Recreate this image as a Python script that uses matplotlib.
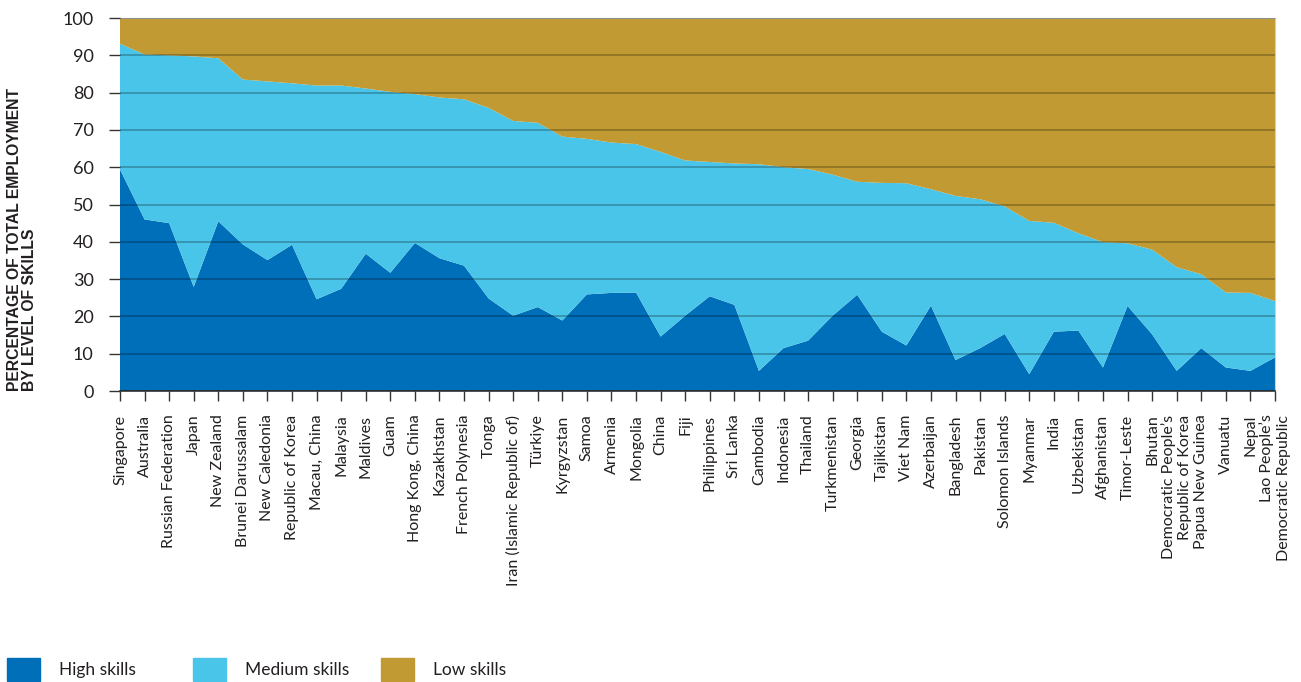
import matplotlib
matplotlib.use("Agg")
import matplotlib.pyplot as plt
from matplotlib.patches import Rectangle
import numpy as np

plt.rcParams["font.family"] = ["Lato", "DejaVu Sans"]
plt.rcParams["text.color"] = "#231f20"
plt.rcParams["xtick.labelcolor"] = "#231f20"
plt.rcParams["ytick.labelcolor"] = "#231f20"

countries = [
    "Singapore", "Australia", "Russian Federation", "Japan", "New Zealand",
    "Brunei Darussalam", "New Caledonia", "Republic of Korea", "Macau, China",
    "Malaysia", "Maldives", "Guam", "Hong Kong, China", "Kazakhstan",
    "French Polynesia", "Tonga", "Iran (Islamic Republic of)", "Türkiye",
    "Kyrgyzstan", "Samoa", "Armenia", "Mongolia", "China", "Fiji",
    "Philippines", "Sri Lanka", "Cambodia", "Indonesia", "Thailand",
    "Turkmenistan", "Georgia", "Tajikistan", "Viet Nam", "Azerbaijan",
    "Bangladesh", "Pakistan", "Solomon Islands", "Myanmar", "India",
    "Uzbekistan", "Afghanistan", "Timor-Leste", "Bhutan",
    "Democratic People\u2019s\nRepublic of Korea", "Papua New Guinea",
    "Vanuatu", "Nepal", "Lao People\u2019s\nDemocratic Republic",
]

high = [59.4, 46.0, 45.0, 27.9, 45.5, 39.3, 35.1, 39.2, 24.6, 27.4,
        36.8, 31.7, 39.7, 35.6, 33.6, 24.8, 20.2, 22.5, 18.9, 25.9,
        26.3, 26.4, 14.6, 20.2, 25.4, 23.1, 5.4, 11.5, 13.5, 20.2,
        25.8, 15.9, 12.2, 22.9, 8.3, 11.5, 15.3, 4.5, 15.9, 16.2,
        6.3, 22.8, 15.2, 5.4, 11.5, 6.3, 5.4, 9.0]
medium = [33.7, 44.2, 45.0, 61.8, 43.7, 44.2, 47.9, 43.3, 57.3, 54.5,
          44.3, 48.5, 39.9, 43.1, 44.6, 51.1, 52.2, 49.4, 49.3, 41.7,
          40.3, 39.8, 49.5, 41.6, 36.0, 37.9, 55.4, 48.5, 46.0, 37.8,
          30.3, 39.9, 43.5, 31.2, 44.0, 39.9, 34.2, 41.1, 29.2, 26.1,
          33.6, 16.8, 22.7, 27.8, 19.8, 20.1, 20.9, 15.1]
low = [6.9, 9.8, 10.0, 10.3, 10.8, 16.5, 17.0, 17.5, 18.1, 18.1,
       18.9, 19.8, 20.4, 21.3, 21.8, 24.1, 27.6, 28.1, 31.8, 32.4,
       33.4, 33.8, 35.9, 38.2, 38.6, 39.0, 39.2, 40.0, 40.5, 42.0,
       43.9, 44.2, 44.3, 45.9, 47.7, 48.6, 50.5, 54.4, 54.9, 57.7,
       60.1, 60.4, 62.1, 66.8, 68.7, 73.6, 73.7, 75.9]

series_names = ["High skills", "Medium skills", "Low skills"]
colors = ["#006FB9", "#48C5E9", "#C19A33"]

fig = plt.figure(figsize=(13.01, 6.82), dpi=100)
ax = fig.add_axes([120 / 1301, 1 - 391 / 682, 1155 / 1301, 373 / 682])

x = np.arange(len(countries))
ax.stackplot(x, high, medium, low, colors=colors, linewidth=0)

ax.set_xlim(0, len(countries) - 1)
ax.set_ylim(0, 100)
ax.set_yticks(np.arange(0, 101, 10))
ax.grid(axis="y", color="black", alpha=0.3, linewidth=1.1)
ax.set_axisbelow(False)

ax.set_xticks(x)
ax.set_xticklabels(countries, rotation=90, ha="center", va="top",
                   multialignment="right", fontsize=11.5)
ax.tick_params(axis="x", direction="out", length=7, width=1, color="#333333", pad=10)
ax.tick_params(axis="y", direction="out", length=8, width=1, color="#333333",
               pad=11, labelsize=13)

ax.spines["left"].set_visible(False)
ax.spines["top"].set_color("#bbbbbb")
ax.spines["right"].set_color("#e0d0a0")
ax.spines["bottom"].set_color("#333333")
ax.spines["bottom"].set_linewidth(1.2)

fig.text(0.017, 1 - 391 / 682, "PERCENTAGE OF TOTAL EMPLOYMENT\nBY LEVEL OF SKILLS",
         rotation=90, ha="center", va="bottom", multialignment="left",
         fontsize=11.3, fontweight="bold", linespacing=1.05,
         family=["Liberation Sans", "DejaVu Sans"])

# legend along the bottom
for i, (name, c) in enumerate(zip(series_names, colors)):
    x0 = [7, 193, 381][i]
    fig.patches.append(Rectangle((x0 / 1301, 1 - 681 / 682), 33 / 1301, 23 / 682,
                                 transform=fig.transFigure, color=c))
    fig.text((x0 + 52) / 1301, 1 - 670 / 682, name, va="center", ha="left", fontsize=12.5)

fig.savefig("out.png", dpi=100)
